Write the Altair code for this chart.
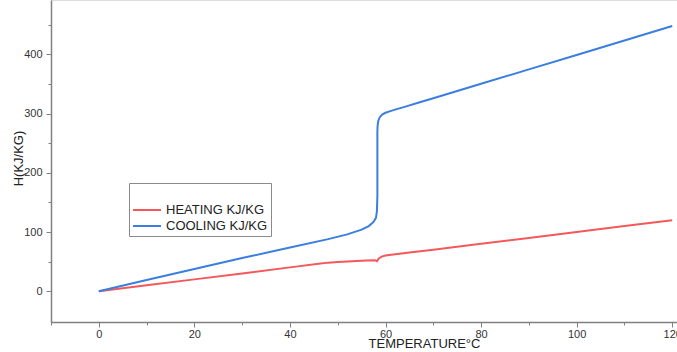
import altair as alt
import pandas as pd

# ---- data ----
series_names = ["HEATING KJ/KG", "COOLING KJ/KG"]
series_colors = ["#F4585B", "#3B7EE0"]

heating_T = [0, 10, 20, 30, 40, 46, 48, 50, 53, 56, 57.8, 58.2, 58.6, 59.2, 60,
             65, 70, 80, 90, 100, 110, 120]
heating_H = [0, 10, 20, 30, 40.3, 46.5, 48.3, 49.3, 50.7, 51.8, 52.4, 50.8, 55.5,
             58.5, 60.3, 65.5, 70.2, 80.1, 90.1, 100.1, 110, 120]

cooling_T = [0, 10, 20, 30, 40, 48, 52, 55, 56.5, 57.5, 58.0, 58.2, 58.3, 58.3,
             58.35, 58.5, 58.8, 59.3, 60.0, 61, 62, 64, 67, 70, 80, 90, 100, 110, 120]
cooling_H = [0, 18.8, 37.6, 56, 74, 88, 96, 104, 110, 117, 124, 135, 160, 270,
             280, 288, 294, 298.5, 301.5, 304.3, 306.8, 311.5, 318.7, 326,
             350.4, 374.8, 399.2, 423.6, 448]

x_ticks = [-10, 0, 10, 20, 30, 40, 50, 60, 70, 80, 90, 100, 110, 120]
y_ticks = [0, 50, 100, 150, 200, 250, 300, 350, 400, 450]

rows = []
for i, (t, h) in enumerate(zip(heating_T, heating_H)):
    rows.append({"T": t, "H": h, "series": series_names[0], "idx": i})
for i, (t, h) in enumerate(zip(cooling_T, cooling_H)):
    rows.append({"T": t, "H": h, "series": series_names[1], "idx": i})
df = pd.DataFrame(rows)

FONT = "Liberation Sans"
AX = "#808080"

x_axis = alt.Axis(
    values=x_ticks,
    labelExpr="datum.value % 20 == 0 ? datum.label : ''",
    tickSize={"condition": {"test": "datum.value % 20 == 0", "value": 5}, "value": 3},
    grid=False, domainColor=AX, domainWidth=1.5, tickColor=AX, tickWidth=1,
    labelFont=FONT, labelFontSize=11, labelColor="#333333", labelPadding=1,
    labelOverlap=False, labelFlush=False,
    title="TEMPERATURE°C", titleFont=FONT, titleFontSize=13, titleFontWeight="normal",
    titleColor="#222222", titleX=373, titleY=21, titleBaseline="middle",
    titleAlign="center",
)
y_axis = alt.Axis(
    values=y_ticks,
    labelExpr="datum.value % 100 == 0 ? datum.label : ''",
    tickSize={"condition": {"test": "datum.value % 100 == 0", "value": 5}, "value": 3},
    grid=False, domainColor=AX, domainWidth=1.5, tickColor=AX, tickWidth=1,
    labelFont=FONT, labelFontSize=11, labelColor="#333333", labelPadding=4,
    labelOverlap=False, labelFlush=False,
    title="H(KJ/KG)", titleFont=FONT, titleFontSize=13, titleFontWeight="normal",
    titleColor="#222222", titleX=-33, titleY=158, titleBaseline="middle",
    titleAlign="center", titleAngle=270,
)

chart = alt.Chart(df).mark_line(strokeWidth=2).encode(
    x=alt.X("T:Q", scale=alt.Scale(domain=[-10, 121], nice=False, zero=False), axis=x_axis),
    y=alt.Y("H:Q", scale=alt.Scale(domain=[-52, 492], nice=False, zero=False), axis=y_axis),
    color=alt.Color(
        "series:N",
        sort=series_names,
        scale=alt.Scale(domain=series_names, range=series_colors),
        legend=alt.Legend(
            title=" ", orient="none", legendX=78, legendY=183,
            strokeColor="#8a8a8a", fillColor="white", padding=3,
            symbolType="stroke", symbolSize=784, symbolStrokeWidth=2,
            clipHeight=14, rowPadding=2,
            labelFont=FONT, labelFontSize=13, labelColor="#222222", labelOffset=4,
            titleFontSize=12, titlePadding=5,
        ),
    ),
    order=alt.Order("idx:Q"),
).properties(
    width=626, height=322,
    autosize=alt.AutoSizeParams(type="none"),
    padding={"left": 51, "top": 0, "right": 0, "bottom": 30},
).configure_view(stroke=None).configure(background="white")

chart.save("out.html", embed_options={"renderer": "svg", "actions": False})
